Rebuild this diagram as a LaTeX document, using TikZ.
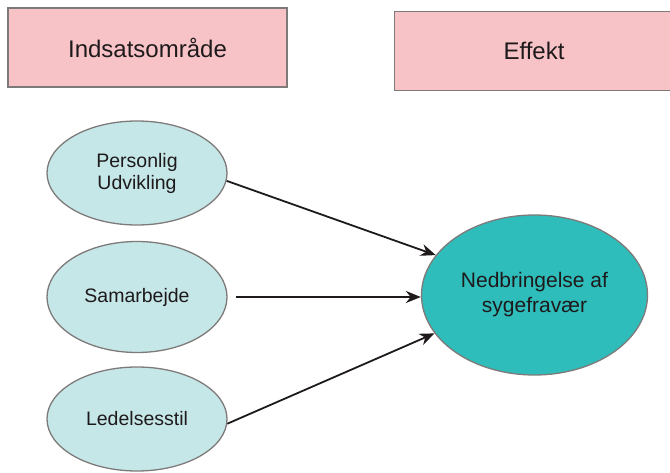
\documentclass[tikz,border=0pt]{standalone}
\usepackage{fontspec}
\setmainfont{Liberation Sans}
\usetikzlibrary{shapes.geometric,arrows.meta}
\definecolor{boxpink}{HTML}{F8C3C7}
\definecolor{boxedge}{HTML}{7E7A7A}
\definecolor{lightcyan}{HTML}{C6E7E8}
\definecolor{teal}{HTML}{2EBDBA}
\definecolor{ink}{HTML}{1E1A1B}
\tikzset{
  headbox/.style={draw=boxedge, line width=1.8pt, fill=boxpink, minimum width=279pt, minimum height=79pt, inner sep=0pt, text=ink, font=\fontsize{24}{28}\selectfont},
  smallell/.style={ellipse, draw=boxedge, line width=1.3pt, fill=lightcyan, minimum width=180pt, minimum height=104pt, inner sep=0pt, text=ink, align=center, font=\fontsize{19.5}{22}\selectfont},
  bigell/.style={ellipse, draw=boxedge, line width=1.3pt, fill=teal, minimum width=226pt, minimum height=160pt, inner sep=0pt, text=ink, align=center, font=\fontsize{21}{25}\selectfont},
  arr/.style={draw=ink, line width=1.8pt, -{Stealth[length=15pt,width=12pt]}}
}
\begin{document}
\begin{tikzpicture}[x=1pt,y=-1pt]
\useasboundingbox (0,0) rectangle (670,473);
\clip (0,0) rectangle (670,473);
\node[headbox] (h1) at (147.5,47.5) {Indsatsområde};
\node[headbox] (h2) at (534,51) {Effekt};
\node[smallell] (p) at (137,173) {Personlig\\Udvikling};
\node[smallell, minimum height=111pt] (s) at (137,297) {Samarbejde};
\node[smallell] (l) at (137,419) {Ledelsesstil};
\node[bigell] (n) at (534.5,295) {Nedbringelse af\\sygefravær};
\draw[arr] (p.-5) -- (n.158);
\draw[arr, shorten <=8pt] (s.east) -- (s.east -| n.west);
\draw[arr] (l.-3) -- (n.201);
\end{tikzpicture}
\end{document}
